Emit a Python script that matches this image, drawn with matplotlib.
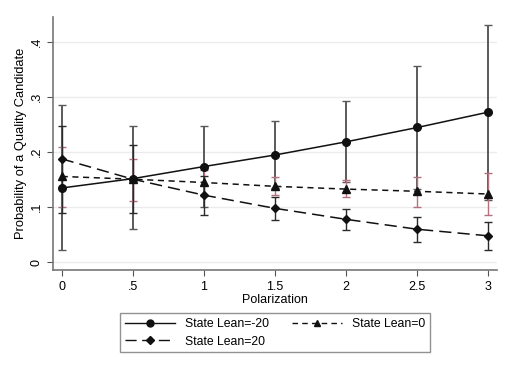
import matplotlib
matplotlib.use("Agg")
import matplotlib.pyplot as plt
from matplotlib.lines import Line2D

polarization = [0, 0.5, 1, 1.5, 2, 2.5, 3]
xtick_labels = ["0", ".5", "1", "1.5", "2", "2.5", "3"]
yticks = [0, 0.1, 0.2, 0.3, 0.4]
ytick_labels = ["0", ".1", ".2", ".3", ".4"]

lean_m20 = [0.135, 0.152, 0.174, 0.195, 0.219, 0.245, 0.273]
lean_m20_lo = [0.022, 0.060, 0.100, 0.135, 0.145, 0.134, 0.114]
lean_m20_hi = [0.285, 0.247, 0.247, 0.256, 0.293, 0.356, 0.432]

lean_0 = [0.156, 0.151, 0.145, 0.138, 0.133, 0.129, 0.124]
lean_0_lo = [0.101, 0.111, 0.120, 0.122, 0.119, 0.101, 0.086]
lean_0_hi = [0.210, 0.188, 0.168, 0.155, 0.149, 0.155, 0.163]

lean_20 = [0.188, 0.151, 0.122, 0.098, 0.078, 0.060, 0.048]
lean_20_lo = [0.090, 0.090, 0.086, 0.077, 0.059, 0.037, 0.022]
lean_20_hi = [0.247, 0.214, 0.157, 0.119, 0.097, 0.083, 0.074]

labels = ["State Lean=-20", "State Lean=0", "State Lean=20"]

plt.rcParams['font.family'] = ['Liberation Sans', 'DejaVu Sans']

fig = plt.figure(figsize=(5.14, 3.79), dpi=100)
ax = fig.add_axes([0.1037, 0.2863, 0.8623, 0.6697])

for v in yticks:
    ax.axhline(v, color="#ececec", lw=1.0, zorder=0)

def ci(y, lo, hi, color, lw):
    yerr = [[a - b for a, b in zip(y, lo)], [c - a for a, c in zip(y, hi)]]
    ax.errorbar(polarization, y, yerr=yerr, fmt="none", ecolor=color,
                elinewidth=lw, capsize=3, capthick=1.0, zorder=2)

ci(lean_m20, lean_m20_lo, lean_m20_hi, "#5a5a5a", 1.4)
ci(lean_0, lean_0_lo, lean_0_hi, "#b5707f", 1.0)
ci(lean_20, lean_20_lo, lean_20_hi, "#2a2a2a", 1.0)

ax.plot(polarization, lean_m20, color="#111111", lw=1.1, ls="-",
        marker="o", ms=5.5, zorder=3)
ax.plot(polarization, lean_0, color="#111111", lw=1.1, ls=(0, (4, 3)),
        marker="^", ms=5.5, zorder=3)
ax.plot(polarization, lean_20, color="#111111", lw=1.1, ls=(0, (8, 4)),
        marker="D", ms=4.5, zorder=3)

ax.set_xlim(-0.059, 3.057)
ax.set_ylim(-0.015, 0.4465)
ax.set_xticks(polarization)
ax.set_xticklabels(xtick_labels)
ax.set_yticks(yticks)
ax.set_yticklabels(ytick_labels, rotation=90, va="center")
ax.tick_params(axis="both", labelsize=9, color="#555555", length=4, width=0.8)
ax.set_xlabel("Polarization", fontsize=9, labelpad=1)
ax.set_ylabel("Probability of a Quality Candidate", fontsize=9.3, labelpad=3)
for s in ["top", "right"]:
    ax.spines[s].set_visible(False)
for s in ["left", "bottom"]:
    ax.spines[s].set_color("#777777")
    ax.spines[s].set_linewidth(1.2)

handles = [
    Line2D([], [], color="#111111", lw=1.0, ls="-", marker="o", ms=5),
    Line2D([], [], color="#111111", lw=1.0, ls=(0, (8, 4)), marker="D", ms=4.5),
    Line2D([], [], color="#111111", lw=1.0, ls=(0, (4, 3)), marker="^", ms=5),
]
leg = fig.legend(handles, [labels[0], labels[2], labels[1]], ncol=2,
                 loc="center", bbox_to_anchor=(0.535, 0.122),
                 fontsize=8.8, frameon=True, fancybox=False,
                 handlelength=4.1, handletextpad=0.8, columnspacing=1.9,
                 labelspacing=0.45, borderpad=0.4)
leg.get_frame().set_edgecolor("#777777")
leg.get_frame().set_linewidth(1.0)

fig.savefig("out.png", dpi=100)
